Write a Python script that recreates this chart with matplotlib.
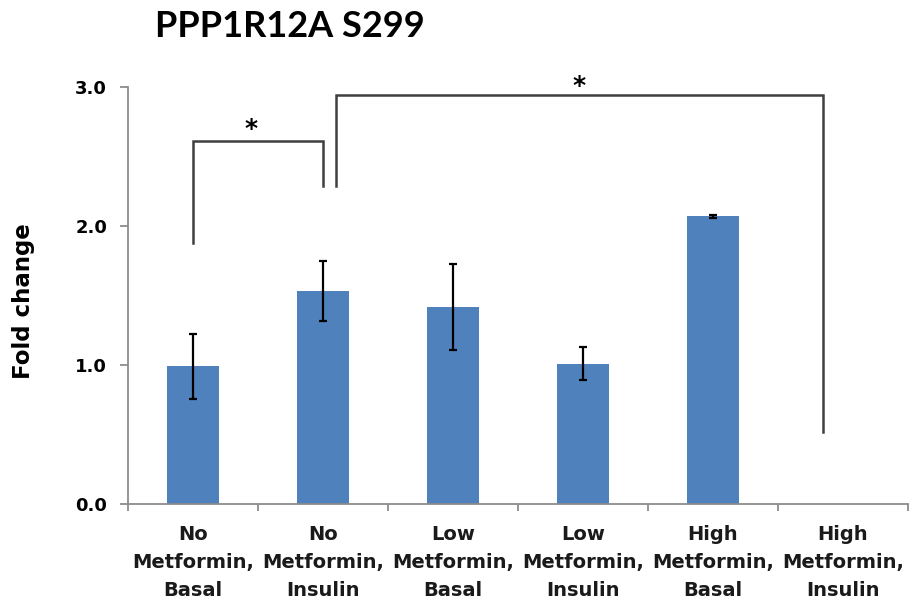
import matplotlib
matplotlib.use("Agg")
import matplotlib.pyplot as plt
import numpy as np

categories = ["No\nMetformin,\nBasal", "No\nMetformin,\nInsulin", "Low\nMetformin,\nBasal",
              "Low\nMetformin,\nInsulin", "High\nMetformin,\nBasal", "High\nMetformin,\nInsulin"]
values = [0.99, 1.53, 1.42, 1.01, 2.07, 0.0]
errors = [0.235, 0.215, 0.31, 0.12, 0.01, 0.0]
yticks = [0.0, 1.0, 2.0, 3.0]
ytick_labels = ["0.0", "1.0", "2.0", "3.0"]

# significance brackets: (x_left, y_left_bottom, x_right, y_right_bottom, y_top, star_x, star_y)
brackets = [
    (0.0, 1.88, 1.0, 2.29, 2.61, 0.45, 2.70),
    (1.1, 2.29, 4.85, 0.52, 2.94, 2.97, 3.01),
]

fig = plt.figure(figsize=(9.12, 6.07), dpi=100)
ax = fig.add_axes([128/912, 1-504/607, (908-128)/912, (504-87)/607])

x = np.arange(len(categories))
ax.bar(x, values, width=0.4, color="#4F81BD", zorder=2)
ax.errorbar(x[:5], values[:5], yerr=errors[:5], fmt="none", ecolor="black",
            elinewidth=1.6, capsize=3, capthick=1.6, zorder=3)

ax.set_xlim(-0.5, len(categories) - 0.5)
ax.set_ylim(0, 3)
ax.set_yticks(yticks)
ax.set_yticklabels(ytick_labels)

ax.set_xticks(np.arange(-0.5, len(categories), 1.0))
ax.set_xticklabels([])
ax.set_xticks(x, minor=True)
ax.set_xticklabels(categories, minor=True)

for s in ["top", "right"]:
    ax.spines[s].set_visible(False)
for s in ["left", "bottom"]:
    ax.spines[s].set_color("#8C8C8C")
    ax.spines[s].set_linewidth(1.3)

ax.tick_params(axis="y", which="major", direction="out", length=6, width=1.3,
               color="#8C8C8C", pad=9, labelsize=13)
ax.tick_params(axis="x", which="major", direction="out", length=5, width=1.3,
               color="#8C8C8C")
ax.tick_params(axis="x", which="minor", length=0, pad=15, labelsize=14)
for lab in ax.get_yticklabels():
    lab.set_fontweight("bold")
    lab.set_family("DejaVu Sans")
for lab in ax.get_xticklabels(minor=True):
    lab.set_fontweight("bold")
    lab.set_family("DejaVu Sans")
    lab.set_color("#1a1a1a")
    lab.set_linespacing(1.6)

for (xl, yl, xr, yr, yt, sx, sy) in brackets:
    ax.plot([xl, xl, xr, xr], [yl, yt, yt, yr], color="#3f3f3f", lw=1.8,
            clip_on=False, zorder=4, solid_joinstyle="miter")
    ax.text(sx, sy, "*", ha="center", va="center", fontsize=18, fontweight="bold",
            family="DejaVu Sans", clip_on=False)

fig.text(290/912, 1-37/607, "PPP1R12A S299", ha="center", va="baseline",
         fontsize=26, fontweight="bold", family=["Lato", "DejaVu Sans"])
fig.text(24/912, 1-301/607, "Fold change", ha="center", va="center", rotation=90,
         fontsize=16.5, fontweight="bold", family="DejaVu Sans")

fig.savefig("out.png", dpi=100)
